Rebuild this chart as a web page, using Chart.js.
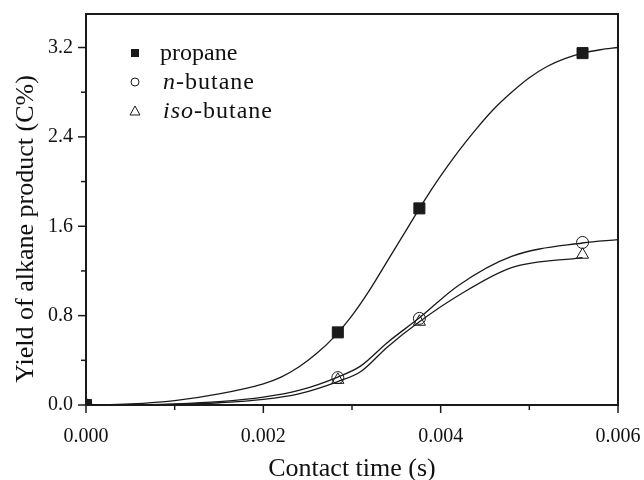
<!DOCTYPE html>
<html>
<head>
<meta charset="utf-8">
<script src="https://cdn.jsdelivr.net/npm/chart.js@4/dist/chart.umd.min.js"></script>
<style>
  html, body { margin: 0; padding: 0; background: #fff; }
  #wrap { width: 644px; height: 480px; }
</style>
</head>
<body>
<div id="wrap"><canvas id="yield-chart"></canvas></div>
<script>
// measured points (contact time in s, yield in C%)
const markerTime = [0, 0.00284, 0.00376, 0.0056];
const propaneYield = [0, 0.65, 1.76, 3.15];
const nButaneYield = [0, 0.245, 0.775, 1.455];
const isoButaneYield = [0, 0.225, 0.745, 1.345];

// fitted curves
const propaneFitTime = [0, 0.0005, 0.001, 0.0015, 0.002, 0.0022, 0.0024, 0.0026, 0.0028, 0.003, 0.0032, 0.0034, 0.0036, 0.0038, 0.004, 0.0042, 0.0044, 0.0046, 0.0048, 0.005, 0.0052, 0.0054, 0.0056, 0.0058, 0.006];
const propaneFit = [0, 0.01, 0.04, 0.1, 0.19, 0.25, 0.34, 0.46, 0.61, 0.8, 1.03, 1.29, 1.55, 1.81, 2.05, 2.27, 2.47, 2.65, 2.8, 2.93, 3.03, 3.1, 3.15, 3.18, 3.2];
const nButaneFitTime = [0, 0.0005, 0.001, 0.0015, 0.002, 0.0024, 0.00284, 0.0031, 0.0034, 0.00376, 0.0042, 0.0048, 0.0056, 0.006];
const nButaneFit = [0, 0, 0.01, 0.03, 0.07, 0.13, 0.25, 0.35, 0.56, 0.78, 1.07, 1.33, 1.45, 1.48];
const isoButaneFitTime = [0, 0.0005, 0.001, 0.0015, 0.002, 0.0024, 0.00284, 0.0031, 0.0034, 0.00376, 0.0042, 0.0048, 0.0056];
const isoButaneFit = [0, 0, 0.005, 0.02, 0.05, 0.1, 0.21, 0.3, 0.52, 0.745, 0.98, 1.23, 1.32];

// tick labels
const xTickLabels = ['0.000', '0.002', '0.004', '0.006'];
const yTickLabels = ['0.0', '0.8', '1.6', '2.4', '3.2'];

const serif = "'Liberation Serif', 'Times New Roman', serif";
const ink = '#1a1a1a';

function toXY(xs, ys) {
    return xs.map((x, i) => ({ x: x, y: ys[i] }));
}

function curve(xs, ys) {
    return {
        data: toXY(xs, ys),
        showLine: true,
        borderColor: ink,
        borderWidth: 1.3,
        pointRadius: 0,
        cubicInterpolationMode: 'monotone',
        order: 2
    };
}

function markers(ys, style, radius, fill) {
    return {
        data: toXY(markerTime, ys),
        showLine: false,
        pointStyle: style,
        pointRadius: radius,
        pointBorderColor: ink,
        pointBorderWidth: 1,
        pointBackgroundColor: fill,
        order: 1
    };
}

// frame, tick marks, axis titles and the legend box
const decorPlugin = {
    id: 'decor',
    afterDraw(chart) {
        const ctx = chart.ctx;
        const area = chart.chartArea;
        const xs = chart.scales.x;
        const ys = chart.scales.y;
        ctx.save();
        ctx.strokeStyle = ink;

        // ticks on bottom and left, outward
        ctx.lineWidth = 1.5;
        xs.ticks.forEach(t => {
            const px = xs.getPixelForValue(t.value);
            const major = Math.round(t.value * 1000) % 2 === 0;
            ctx.beginPath();
            ctx.moveTo(px, area.bottom);
            ctx.lineTo(px, area.bottom + (major ? 8 : 5));
            ctx.stroke();
        });
        ys.ticks.forEach(t => {
            const py = ys.getPixelForValue(t.value);
            const major = Math.round(t.value / 0.4) % 2 === 0;
            ctx.beginPath();
            ctx.moveTo(area.left, py);
            ctx.lineTo(area.left - (major ? 8 : 5), py);
            ctx.stroke();
        });

        // frame
        ctx.lineWidth = 2;
        ctx.strokeRect(area.left, area.top, area.right - area.left, area.bottom - area.top);

        // axis titles
        ctx.fillStyle = '#111';
        ctx.font = '26px ' + serif;
        ctx.textAlign = 'center';
        ctx.textBaseline = 'alphabetic';
        ctx.fillText('Contact time (s)', 352, 476);
        ctx.save();
        ctx.translate(33, 229);
        ctx.rotate(-Math.PI / 2);
        ctx.fillText('Yield of alkane product (C%)', 0, 0);
        ctx.restore();

        // legend
        const lx = 135;
        const rows = [53, 82, 111];
        ctx.lineWidth = 1;
        ctx.fillStyle = ink;
        ctx.fillRect(lx - 4, rows[0] - 4, 8, 8);
        ctx.beginPath();
        ctx.arc(lx, rows[1], 4, 0, Math.PI * 2);
        ctx.stroke();
        ctx.beginPath();
        ctx.moveTo(lx, rows[2] - 5);
        ctx.lineTo(lx + 5, rows[2] + 4);
        ctx.lineTo(lx - 5, rows[2] + 4);
        ctx.closePath();
        ctx.stroke();

        ctx.fillStyle = '#111';
        ctx.textAlign = 'left';
        const size = 24;
        ctx.font = size + 'px ' + serif;
        ctx.fillText('propane', 160, rows[0] + 7);

        ctx.letterSpacing = '1px';
        const tx = 163;
        ctx.font = 'italic ' + size + 'px ' + serif;
        ctx.fillText('n', tx, rows[1] + 7);
        let w = ctx.measureText('n').width;
        ctx.font = size + 'px ' + serif;
        ctx.fillText('-butane', tx + w, rows[1] + 7);
        ctx.font = 'italic ' + size + 'px ' + serif;
        ctx.fillText('iso', tx, rows[2] + 7);
        w = ctx.measureText('iso').width;
        ctx.font = size + 'px ' + serif;
        ctx.fillText('-butane', tx + w, rows[2] + 7);
        ctx.restore();
    }
};

new Chart(document.getElementById('yield-chart'), {
    type: 'scatter',
    data: {
        datasets: [
            curve(propaneFitTime, propaneFit),
            curve(nButaneFitTime, nButaneFit),
            curve(isoButaneFitTime, isoButaneFit),
            markers(propaneYield, 'rect', 7.8, ink),
            markers(nButaneYield, 'circle', 6, 'rgba(0,0,0,0)'),
            markers(isoButaneYield, 'triangle', 7, 'rgba(0,0,0,0)')
        ]
    },
    options: {
        responsive: true,
        maintainAspectRatio: false,
        animation: false,
        layout: { padding: { top: 14, right: 26, left: 0, bottom: 0 } },
        plugins: {
            legend: { display: false },
            tooltip: { enabled: false }
        },
        scales: {
            x: {
                type: 'linear',
                min: 0,
                max: 0.006,
                grid: { display: false },
                border: { display: false },
                afterFit(scale) {
                    scale.height = 75;
                    scale.paddingLeft = 0;
                    scale.paddingRight = 0;
                },
                ticks: {
                    stepSize: 0.001,
                    includeBounds: false,
                    autoSkip: false,
                    maxRotation: 0,
                    padding: 12,
                    color: '#111',
                    font: { family: serif, size: 20 },
                    callback: v => {
                        const k = Math.round(v * 1000);
                        return k % 2 === 0 ? xTickLabels[k / 2] : '';
                    }
                }
            },
            y: {
                type: 'linear',
                min: 0,
                max: 3.5,
                grid: { display: false },
                border: { display: false },
                afterFit(scale) {
                    scale.width = 86;
                    scale.paddingTop = 0;
                    scale.paddingBottom = 0;
                },
                ticks: {
                    stepSize: 0.4,
                    includeBounds: false,
                    autoSkip: false,
                    padding: 5,
                    color: '#111',
                    font: { family: serif, size: 20 },
                    callback: v => {
                        const k = Math.round(v / 0.4);
                        return k % 2 === 0 ? yTickLabels[k / 2] : '';
                    }
                }
            }
        }
    },
    plugins: [decorPlugin]
});
</script>
</body>
</html>
